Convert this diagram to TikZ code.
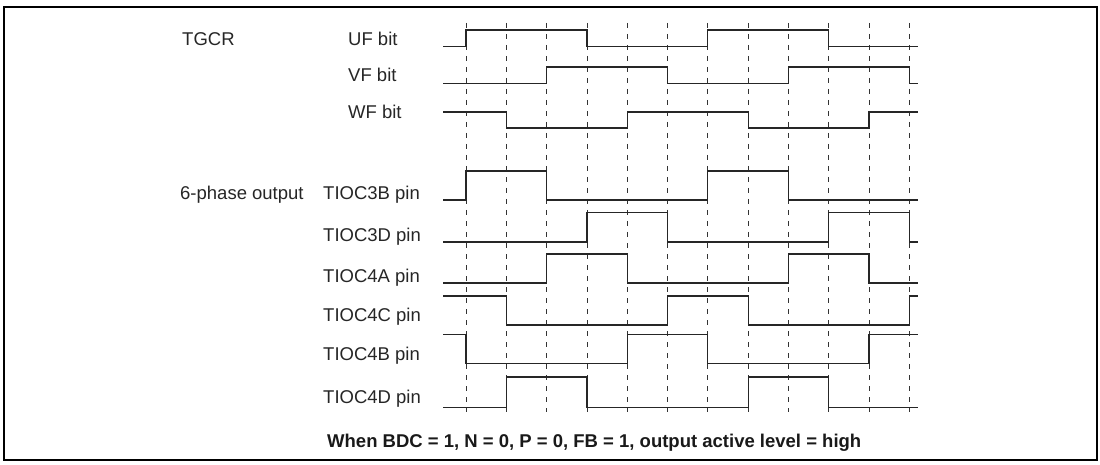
\documentclass[tikz,border=0pt]{standalone}
\usepackage{fontspec}
\setmainfont{Liberation Sans}
\begin{document}
\begin{tikzpicture}[x=1pt,y=-1pt,
  lbl/.style={anchor=base west, inner sep=0pt, font=\fontsize{18.5}{22}\selectfont, text=black!85},
  note/.style={anchor=base west, inner sep=0pt, font=\fontsize{18.5}{22}\selectfont\bfseries, text=black!90},
  sig/.style={line width=1.2pt, draw=black!85},
  gridline/.style={line width=0.8pt, dash pattern=on 5pt off 6pt, draw=black!80},
  frame/.style={line width=2pt, draw=black}]
\def\T#1{466+40.3*#1}
\useasboundingbox (0,0) rectangle (1100,465);
\draw[frame] (4,7) rectangle (1096.5,460);
% grid
\foreach \k in {0,...,11} \draw[gridline] ({\T{\k}},23) -- ({\T{\k}},412);
% labels
\node[lbl] (tgcr) at (182,45.5) {TGCR};
\node[lbl] (uf) at (348,45.5) {UF bit};
\node[lbl] (vf) at (348,82) {VF bit};
\node[lbl] (wf) at (348,118.5) {WF bit};
\node[lbl] (six) at (180,200) {6-phase output};
\node[lbl] (p3b) at (323,200) {TIOC3B pin};
\node[lbl] (p3d) at (323,241.5) {TIOC3D pin};
\node[lbl] (p4a) at (323,282.5) {TIOC4A pin};
\node[lbl] (p4c) at (323,321.5) {TIOC4C pin};
\node[lbl] (p4b) at (323,360) {TIOC4B pin};
\node[lbl] (p4d) at (323,403) {TIOC4D pin};
\node[note] (cond) at (327,447) {When BDC = 1, N = 0, P = 0, FB = 1, output active level = high};
% waveforms
\draw[sig] (443,46.5) -| ({\T{0}},30) -| ({\T{3}},46.5) -| ({\T{6}},30) -| ({\T{9}},46.5) -- (918,46.5);
\draw[sig] (443,83.5) -| ({\T{2}},67) -| ({\T{5}},83.5) -| ({\T{8}},67) -| ({\T{11}},83.5) -- (918,83.5);
\draw[sig] (443,112) -| ({\T{1}},128) -| ({\T{4}},112) -| ({\T{7}},128) -| ({\T{10}},112) -- (918,112);
\draw[sig] (443,200) -| ({\T{0}},171) -| ({\T{2}},200) -| ({\T{6}},171) -| ({\T{8}},200) -- (918,200);
\draw[sig] (443,242) -| ({\T{3}},212.5) -| ({\T{5}},242) -| ({\T{9}},212.5) -| ({\T{11}},242) -- (918,242);
\draw[sig] (443,283) -| ({\T{2}},254) -| ({\T{4}},283) -| ({\T{8}},254) -| ({\T{10}},283) -- (918,283);
\draw[sig] (443,296) -| ({\T{1}},325) -| ({\T{5}},296) -| ({\T{7}},325) -| ({\T{11}},296) -- (918,296);
\draw[sig] (443,334.5) -| ({\T{0}},363.5) -| ({\T{4}},334.5) -| ({\T{6}},363.5) -| ({\T{10}},334.5) -- (918,334.5);
\draw[sig] (443,407.5) -| ({\T{1}},377) -| ({\T{3}},407.5) -| ({\T{7}},377) -| ({\T{9}},407.5) -- (918,407.5);
\end{tikzpicture}
\end{document}
